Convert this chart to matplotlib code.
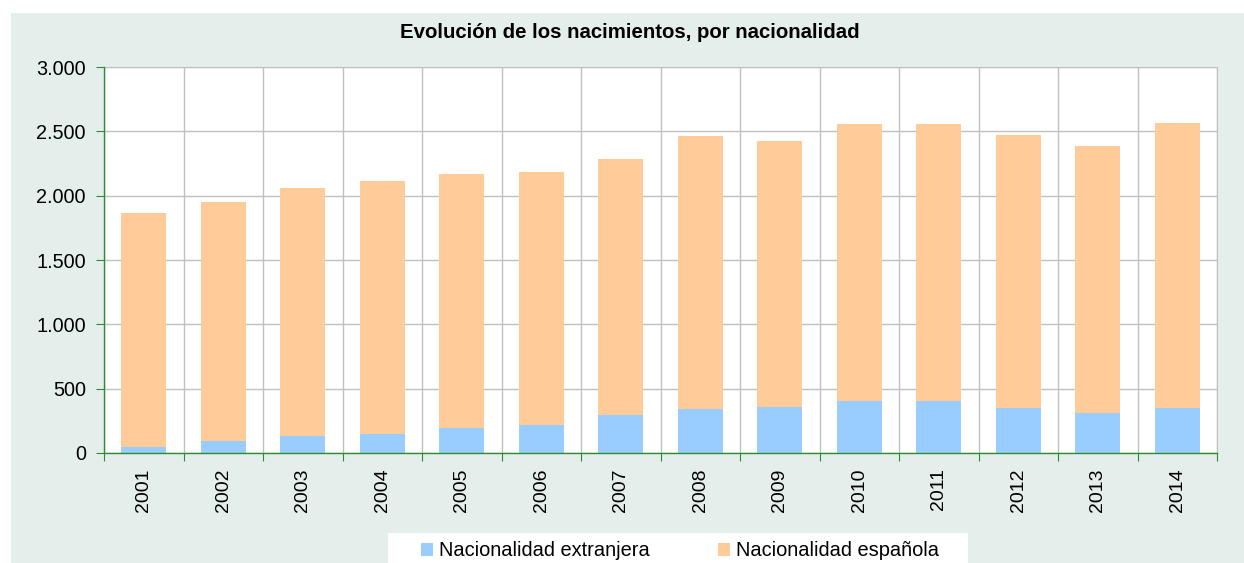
import matplotlib.pyplot as plt
import matplotlib.patches as mpatches
from matplotlib.ticker import FixedLocator, FuncFormatter
import numpy as np

plt.rcParams['font.family'] = ['Liberation Sans', 'DejaVu Sans']

# datos
anios = ['2001', '2002', '2003', '2004', '2005', '2006', '2007',
         '2008', '2009', '2010', '2011', '2012', '2013', '2014']
total = [1865, 1951, 2060, 2114, 2168, 2184, 2285,
         2464, 2425, 2557, 2557, 2471, 2386, 2565]
extranjera = [47, 93, 132, 148, 197, 218, 295,
              342, 357, 404, 404, 352, 311, 352]
espanola = [t - e for t, e in zip(total, extranjera)]

c_ext = '#99CCFF'
c_esp = '#FFCC99'
c_grid = '#C0C0C0'
c_eje = '#2E8B2E'
c_fondo = '#E4EFEC'

fig = plt.figure(figsize=(12.44, 5.63), dpi=100)
fig.patch.set_facecolor('white')

# panel de fondo
fig.patches.append(mpatches.Rectangle((11 / 1244, 0), 1 - 11 / 1244, 1 - 13 / 563,
                                      transform=fig.transFigure, facecolor=c_fondo,
                                      edgecolor='none', zorder=-10))
# caja blanca de la leyenda
fig.patches.append(mpatches.Rectangle((388 / 1244, 0), 580 / 1244, 30 / 563,
                                      transform=fig.transFigure, facecolor='white',
                                      edgecolor='none', zorder=-5))

ax = fig.add_axes([104 / 1244, 1 - 453 / 563, (1217 - 104) / 1244, (453 - 67) / 563])
ax.set_facecolor('white')

x = np.arange(len(anios))
ancho = 0.57
ax.bar(x, extranjera, width=ancho, color=c_ext, label='Nacionalidad extranjera', zorder=3)
ax.bar(x, espanola, width=ancho, bottom=extranjera, color=c_esp,
       label='Nacionalidad española', zorder=3)

ax.set_xlim(-0.5, len(anios) - 0.5)
ax.set_ylim(0, 3000)

ax.set_yticks(np.arange(0, 3001, 500))
ax.yaxis.set_major_formatter(FuncFormatter(lambda v, p: f'{int(v):,}'.replace(',', '.')))

ax.xaxis.set_major_locator(FixedLocator(np.arange(-0.5, len(anios), 1.0)))
ax.xaxis.set_minor_locator(FixedLocator(x))
ax.set_xticklabels([])
ax.set_xticklabels(anios, minor=True, rotation=90)

ax.tick_params(axis='x', which='major', length=6, color=c_eje, direction='out')
ax.tick_params(axis='x', which='minor', length=0, pad=11, labelsize=14)
ax.tick_params(axis='y', length=6, color=c_eje, direction='out', pad=7, labelsize=14.3)

ax.grid(True, which='major', axis='both', color=c_grid, linewidth=1, zorder=0)
ax.set_axisbelow(True)

for s in ['left', 'bottom']:
    ax.spines[s].set_color(c_eje)
    ax.spines[s].set_linewidth(1)
    ax.spines[s].set_zorder(5)
for s in ['top', 'right']:
    ax.spines[s].set_color(c_grid)

fig.text(630 / 1244, 1 - 33 / 563, 'Evolución de los nacimientos, por nacionalidad',
         ha='center', va='center', fontsize=14.7, fontweight='bold')

fig.legend(loc='center', bbox_to_anchor=(680 / 1244, 1 - 551 / 563), ncol=2,
           frameon=False, fontsize=14.4, handlelength=0.6, handleheight=0.6,
           handletextpad=0.3, columnspacing=3.4)

fig.savefig('out.png', dpi=100)
